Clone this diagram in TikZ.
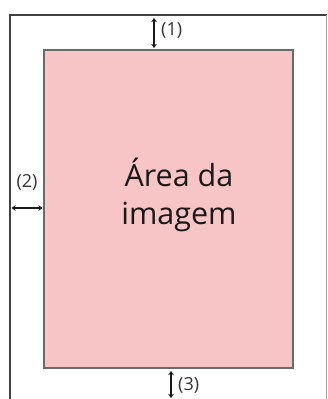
\documentclass[tikz,border=0pt]{standalone}
\usepackage{fontspec}
\setmainfont{Open Sans}
\usepackage{xcolor}
\usetikzlibrary{arrows.meta,positioning}

\definecolor{areafill}{HTML}{F7C5C6}
\definecolor{areaedge}{HTML}{6A6A6A}

\begin{document}
\begin{tikzpicture}[
        x=1pt, y=-1pt,
        frame/.style={draw=black!75, line width=1.8pt},
        area/.style={draw=areaedge, line width=1.4pt, fill=areafill, minimum width=249pt, minimum height=318pt,
            inner sep=0pt},
        areatext/.style={align=center, inner sep=0pt, font=\fontsize{30.5}{38}\selectfont, text=black!90},
        margin/.style={{Stealth[length=4pt,width=5.5pt]}-{Stealth[length=4pt,width=5.5pt]}, line width=1.3pt, draw=black!90},
        lbl/.style={font=\fontsize{18}{20}\selectfont, inner sep=1pt, text=black!80}
    ]
        \useasboundingbox (0,0) rectangle (327,399);
        % paper outline
        \draw[frame] (10,405) -- (10,15) -- (327,15);
        \draw[black!35, line width=0.8pt] (326,15) -- (326,405);
        % image area
        \node[area] (img) at (168.5,209) {};
        \node[areatext] (imgtxt) at (179,195) {Área da\\imagem};
        % margins
        \coordinate (t1) at (154,18);
        \coordinate (t2) at (154,48);
        \draw[margin] (t1) -- (t2);
        \node[lbl, anchor=west] (m1) at (160,30) {(1)};
        \coordinate (l1) at (11.5,208);
        \coordinate (l2) at (42.5,208);
        \draw[margin] (l1) -- (l2);
        \node[lbl] (m2) at (27,182) {(2)};
        \coordinate (b1) at (171,371);
        \coordinate (b2) at (171,398);
        \draw[margin] (b1) -- (b2);
        \node[lbl, anchor=west] (m3) at (177,385) {(3)};
\end{tikzpicture}
\end{document}
